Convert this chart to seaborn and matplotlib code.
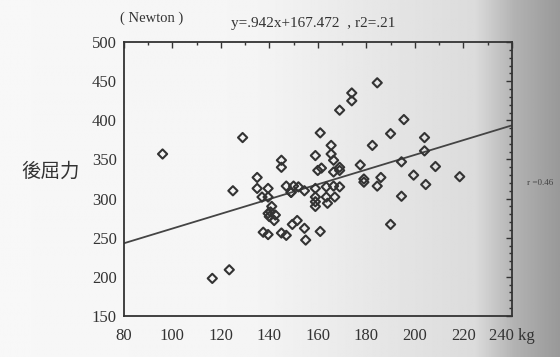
import numpy as np
import pandas as pd
import matplotlib
matplotlib.use("Agg")
import matplotlib.pyplot as plt
import seaborn as sns
from matplotlib.ticker import MultipleLocator

# ---- data ----
weight_kg = [96, 129, 145, 145, 135, 125, 135, 139.5, 137, 139.5, 141, 147, 150, 152,
             149, 149, 154.5, 159, 161, 160, 161.5, 159, 159, 159, 159, 163.5, 163.5,
             139.5, 140, 142.5, 142, 140.5, 137.5, 139.5, 145, 147, 149.5, 151.5, 154.5,
             155, 161, 116.5, 123.5, 184.5, 174, 174, 169, 195.5, 190, 204, 182.5,
             165.5, 165.5, 166.5, 204, 194.5, 177.5, 169, 169, 166.5, 208.5, 218.5,
             199.5, 186, 184.5, 179, 179, 204.5, 194.5, 166.5, 169, 164, 167, 190]
force_newton = [357, 378, 349, 340, 327, 310, 313, 313, 302, 302, 290, 316, 316, 315,
                308, 308, 310, 355, 384, 336, 339, 313, 302, 296, 290, 315, 302,
                281, 277, 279, 272, 283, 257, 254, 256, 253, 267, 272, 262,
                247, 258, 198, 209, 448, 435, 425, 413, 401, 383, 378, 368,
                368, 357, 349, 361, 347, 343, 340, 336, 334, 341, 328,
                330, 327, 316, 325, 321, 318, 303, 316, 315, 294, 302, 267]
slope = 0.942
intercept = 167.472
line_x = [80, 240]
x_ticks = [80, 100, 120, 140, 160, 180, 200, 220, 240]
x_tick_labels = ["80", "100", "120", "140", "160", "180", "200", "220", "240 kg"]
y_ticks = [150, 200, 250, 300, 350, 400, 450, 500]

df = pd.DataFrame({"weight": weight_kg, "force": force_newton})
line_df = pd.DataFrame({"x": line_x, "y": [slope * v + intercept for v in line_x]})

sns.set_style("white")
plt.rcParams["font.family"] = ["Liberation Serif", "DejaVu Serif"]

fig = plt.figure(figsize=(5.6, 3.57), dpi=100)

# scanned-paper shading in the background
bg = fig.add_axes([0, 0, 1, 1], zorder=-10)
xs = np.linspace(0, 1, 400)
shade = np.interp(xs, [0, 0.45, 0.85, 0.92, 1.0], [0.97, 0.96, 0.86, 0.70, 0.60])
bg.imshow(np.tile(shade, (10, 1)), cmap="gray", vmin=0, vmax=1, aspect="auto",
          extent=[0, 1, 0, 1])
bg.axis("off")

ax = fig.add_axes([0.221, 0.115, 0.693, 0.767])
ax.patch.set_alpha(0)

sns.lineplot(data=line_df, x="x", y="y", ax=ax, color="#444444", linewidth=1.3)
sns.scatterplot(data=df, x="weight", y="force", ax=ax, marker="D", s=22,
                facecolors="none", edgecolor="#333333", linewidth=1.5, zorder=3)

ax.set_xlim(80, 240)
ax.set_ylim(150, 500)
ax.set_xticks(x_ticks)
ax.set_xticklabels(x_tick_labels)
ax.set_yticks(y_ticks)
ax.xaxis.set_minor_locator(MultipleLocator(10))
ax.yaxis.set_minor_locator(MultipleLocator(10))
ax.tick_params(which="both", direction="in", top=True, right=True,
               color="#333333", width=1)
ax.tick_params(which="major", length=4, labelsize=12, labelcolor="#333333")
ax.tick_params(axis="x", which="major", pad=9)
ax.tick_params(axis="y", which="major", pad=5)
ax.tick_params(which="minor", length=2)
ax.set_xlabel("")
ax.set_ylabel("")
for sp in ax.spines.values():
    sp.set_visible(True)
    sp.set_color("#333333")
    sp.set_linewidth(1.3)

fig.text(0.27, 0.948, "( Newton )", fontsize=10.5, color="#333333", ha="center", va="center")
fig.text(0.56, 0.935, "y=.942x+167.472  , r2=.21", fontsize=11, color="#333333",
         ha="center", va="center")
fig.text(0.143, 0.52, "後屈力", fontsize=14, color="#333333", ha="right", va="center",
         family=["Noto Sans CJK TC", "DejaVu Sans"])
fig.text(0.965, 0.487, "r =0.46", fontsize=6.5, color="#444444", ha="center", va="center")

fig.savefig("out.png", dpi=100)
